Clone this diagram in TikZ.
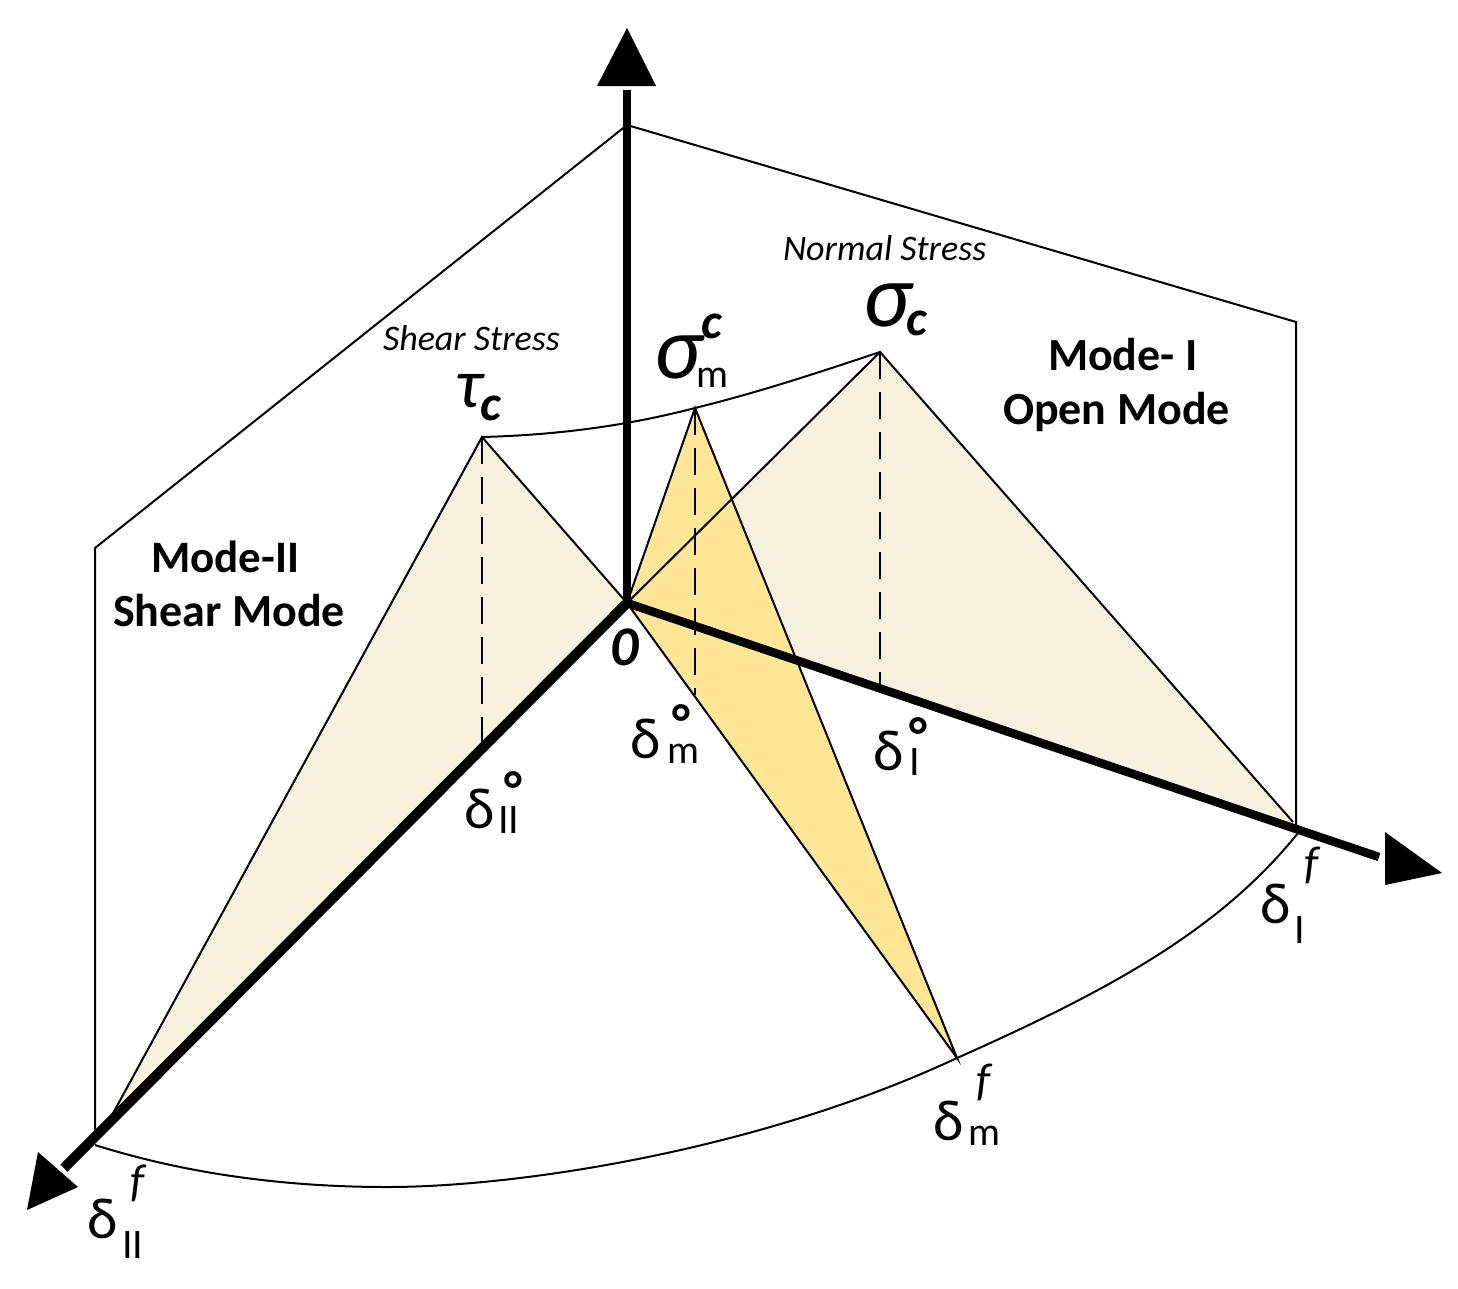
\documentclass[tikz,border=0pt]{standalone}
\usepackage{fontspec}
\setmainfont{Carlito}
\newcommand{\fsz}[1]{\fontsize{#1}{#1}\selectfont}
\newcommand{\scr}[3]{\makebox[0pt][l]{\hspace*{#1pt}\raisebox{#2pt}{#3}}}
\tikzset{
  thinline/.style={draw=black,line width=2pt},
  axisline/.style={draw=black,line width=8.5pt},
  axisthick/.style={draw=black,line width=10pt},
  dashline/.style={draw=black,line width=2.5pt,dash pattern=on 27pt off 13pt},
  headfill/.style={fill=black,draw=none},
  modefill/.style={fill=tri},
  mixfill/.style={fill=mix},
  txt/.style={inner sep=0pt,outer sep=0pt,anchor=base west,text=black},
}
\definecolor{tri}{HTML}{F7F0DC}
\definecolor{mix}{HTML}{FFE596}
\begin{document}
\begin{tikzpicture}[x=1pt,y=-1pt]
\useasboundingbox (0,0) rectangle (1458,1288);
\coordinate (O) at (627,603);
\coordinate (Otop) at (627,90);
\coordinate (Oleft) at (64,1168);
\coordinate (Oright) at (1379,857);
\coordinate (tauc) at (482,437);
\coordinate (sigm) at (695,408);
\coordinate (sigc) at (880,352);
\coordinate (dII) at (105,1128);
\coordinate (dI) at (1293,822);
\coordinate (dm) at (957,1058);
\coordinate (arcL) at (95,1145);
\coordinate (arcM) at (387,1187);
\coordinate (arcR) at (1298,833);
\coordinate (pA) at (95,1137);
\coordinate (pB) at (95,548);
\coordinate (pC) at (627,125);
\coordinate (pD) at (1296,322);
\coordinate (pE) at (1296,825);
\coordinate (f1) at (482,745);
\coordinate (f2) at (695,695);
\coordinate (f3) at (880,685);
% filled triangles
\path[modefill] (O) -- (tauc) -- (dII) -- cycle;
\path[modefill] (O) -- (sigc) -- (dI) -- cycle;
\path[mixfill] (O) -- (sigm) -- (dm) -- cycle;
\draw[thinline] (O) -- (tauc) -- (dII);
\draw[thinline] (O) -- (sigc) -- (dI);
\draw[thinline] (O) -- (sigm) -- (dm) -- cycle;
% planes
\draw[thinline] (pA) -- (pB) -- (pC) -- (pD) -- (pE);
% arcs
\draw[thinline] (tauc) .. controls (560,435) and (630,425) .. (sigm)
  .. controls (760,392) and (820,372) .. (sigc);
\draw[thinline] (arcL) .. controls (190,1175) and (290,1187) .. (arcM)
  .. controls (520,1187) and (760,1150) .. (dm)
  .. controls (1110,990) and (1220,930) .. (arcR);
% dashed drops
\draw[dashline] (tauc) -- (f1);
\draw[dashline] (sigm) -- (f2);
\draw[dashline] (sigc) -- (f3);
% axes
\draw[axisline] (O) -- (Otop);
\draw[axisthick] (O) -- (Oleft);
\draw[axisline] (O) -- (Oright);
\fill[headfill] (627,28) -- (597,86) -- (656,86) -- cycle;
\fill[headfill] (27,1210) -- (38,1152) -- (78,1187) -- cycle;
\fill[headfill] (1442,873) -- (1385,832) -- (1385,885) -- cycle;
% labels
\node[txt] (lmodeII) at (151,572) {\fsz{45}\bfseries Mode-II};
\node[txt] (lshear) at (113,626) {\fsz{46}\bfseries Shear Mode};
\node[txt] (lmodeI) at (1048,370) {\fsz{46}\bfseries Mode- I};
\node[txt] (lopen) at (1003,424) {\fsz{46}\bfseries Open Mode};
\node[txt] (lnormal) at (783,260) {\fsz{36}\itshape Normal Stress};
\node[txt] (lshears) at (383,350) {\fsz{36}\itshape Shear Stress};
\node[txt] (ltau) at (455,407) {\scr{25}{-13}{\fsz{50}\bfseries\itshape c}\fsz{70}\itshape τ};
\node[txt] (lsc) at (863,326) {\scr{43}{-9}{\fsz{50}\bfseries\itshape c}\fsz{90}\itshape σ};
\node[txt] (lsm) at (654,378) {\scr{47}{40}{\fsz{50}\bfseries\itshape c}\scr{42}{-9}{\fsz{40}m}\fsz{90}\itshape σ};
\node[txt] (lzero) at (610,665) {\fsz{56}\bfseries\itshape 0};
\node[txt] (ldm) at (630,758) {\scr{42}{18}{\fsz{52}\bfseries °}\scr{37}{-5}{\fsz{40}m}\fsz{58}δ};
\node[txt] (ldi) at (873,770) {\scr{36}{17}{\fsz{52}\bfseries °}\scr{36}{-5}{\fsz{42}I}\fsz{58}δ};
\node[txt] (ldII) at (464,828) {\scr{40}{21}{\fsz{52}\bfseries °}\scr{34}{-5}{\fsz{42}II}\fsz{58}δ};
\node[txt] (ldfm) at (933,1140) {\scr{43}{45}{\fsz{46}\itshape f}\scr{35}{-5}{\fsz{40}m}\fsz{58}δ};
\node[txt] (ldfi) at (1260,923) {\scr{44}{45}{\fsz{46}\itshape f}\scr{34}{-20}{\fsz{42}I}\fsz{58}δ};
\node[txt] (ldfii) at (87,1238) {\scr{43}{42}{\fsz{46}\itshape f}\scr{35}{-20}{\fsz{42}II}\fsz{58}δ};
\end{tikzpicture}
\end{document}
